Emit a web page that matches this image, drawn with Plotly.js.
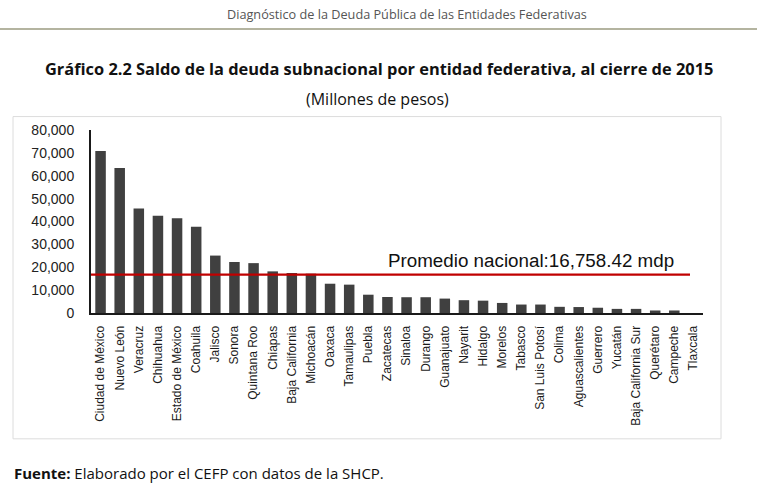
<!DOCTYPE html>
<html>
<head>
<meta charset="utf-8">
<script src="https://cdn.plot.ly/plotly-3.0.1.min.js"></script>
<style>
  html, body { margin: 0; padding: 0; background: #ffffff; }
  #chart { width: 768px; height: 485px; }
</style>
</head>
<body>
<div id="chart"></div>
<script>
// ---- Data ----
var categories = ["Ciudad de México","Nuevo León","Veracruz","Chihuahua","Estado de México","Coahuila","Jalisco","Sonora","Quintana Roo","Chiapas","Baja California","Michoacán","Oaxaca","Tamaulipas","Puebla","Zacatecas","Sinaloa","Durango","Guanajuato","Nayarit","Hidalgo","Morelos","Tabasco","San Luis Potosí","Colima","Aguascalientes","Guerrero","Yucatán","Baja California Sur","Querétaro","Campeche","Tlaxcala"];
var saldoDeuda = [70800, 63400, 45700, 42500, 41400, 37700, 25100, 22300, 21800, 18200, 17500, 17200, 12800, 12400, 8000, 7000, 6900, 6900, 6300, 5600, 5400, 4400, 3700, 3700, 2700, 2600, 2300, 1800, 1800, 1100, 1100, 0];
var promedioNacional = 16758.42;
var yTicks = [0, 10000, 20000, 30000, 40000, 50000, 60000, 70000, 80000];

// ---- Layout geometry (pixels) ----
var W = 768, H = 485;
var L = 91, R = 703, T = 129.5, B = 313.5;
function px(x) { return (x - L) / (R - L); }
function py(y) { return (B - y) / (B - T); }

var trace = {
  type: 'bar',
  x: categories,
  y: saldoDeuda,
  marker: { color: '#404040', line: { width: 0 } },
  hoverinfo: 'x+y'
};

var layout = {
  width: W, height: H,
  margin: { l: L, r: W - R, t: T, b: H - B, pad: 0 },
  paper_bgcolor: '#ffffff',
  plot_bgcolor: '#ffffff',
  showlegend: false,
  bargap: 0.45,
  font: { family: 'Liberation Sans, Arial, sans-serif', color: '#222222' },
  xaxis: {
    type: 'category',
    tickangle: -90,
    tickfont: { size: 12, family: 'Liberation Sans, Arial, sans-serif', color: '#1a1a1a' },
    showline: true, linecolor: '#1a1a1a', linewidth: 2,
    showgrid: false, zeroline: false, ticks: '',
    ticklabelstandoff: 6,
    fixedrange: true
  },
  yaxis: {
    range: [0, 80000],
    tickvals: yTicks,
    tickformat: ',d',
    tickfont: { size: 14, family: 'Liberation Sans, Arial, sans-serif', color: '#222222' },
    showline: true, linecolor: '#1a1a1a', linewidth: 2,
    showgrid: false, zeroline: false, ticks: '',
    ticklabelstandoff: 12,
    fixedrange: true
  },
  shapes: [
    { type: 'line', xref: 'paper', yref: 'paper', x0: px(0), x1: px(757), y0: py(28), y1: py(28),
      line: { color: '#9b9b80', width: 1.5 } },
    { type: 'rect', xref: 'paper', yref: 'paper', x0: px(13), x1: px(721), y0: py(116), y1: py(440),
      line: { color: '#dcdcdc', width: 1 }, fillcolor: 'rgba(0,0,0,0)', layer: 'below' },
    { type: 'line', xref: 'paper', yref: 'y', x0: 0, x1: px(690), y0: promedioNacional, y1: promedioNacional,
      line: { color: '#c00000', width: 2.2 } }
  ],
  annotations: [
    { xref: 'paper', yref: 'paper', x: px(407), y: py(13), xanchor: 'center', yanchor: 'middle', showarrow: false,
      text: 'Diagnóstico de la Deuda Pública de las Entidades Federativas',
      font: { family: 'Open Sans, sans-serif', size: 12.7, color: '#555555' } },
    { xref: 'paper', yref: 'paper', x: px(379), y: py(68), xanchor: 'center', yanchor: 'middle', showarrow: false,
      text: '<b>Gráfico 2.2 Saldo de la deuda subnacional por entidad federativa, al cierre de 2015</b>',
      font: { family: 'Open Sans, sans-serif', size: 16.4, color: '#111111' } },
    { xref: 'paper', yref: 'paper', x: px(377), y: py(98), xanchor: 'center', yanchor: 'middle', showarrow: false,
      text: '(Millones de pesos)',
      font: { family: 'Open Sans, sans-serif', size: 16, color: '#111111' } },
    { xref: 'paper', yref: 'y', x: px(386), y: promedioNacional, xanchor: 'left', yanchor: 'bottom', yshift: 2, showarrow: false,
      text: 'Promedio nacional:' + promedioNacional.toLocaleString('en-US', {minimumFractionDigits: 2}) + ' mdp',
      font: { family: 'Liberation Sans, Arial, sans-serif', size: 18.8, color: '#111111' } },
    { xref: 'paper', yref: 'paper', x: px(13), y: py(485), xanchor: 'left', yanchor: 'bottom', borderpad: 0, showarrow: false,
      text: '<b>Fuente:</b> Elaborado por el CEFP con datos de la SHCP.',
      font: { family: 'Open Sans, sans-serif', size: 15, color: '#111111' } }
  ]
};

Plotly.newPlot('chart', [trace], layout, { displayModeBar: false, staticPlot: true });
</script>
</body>
</html>
